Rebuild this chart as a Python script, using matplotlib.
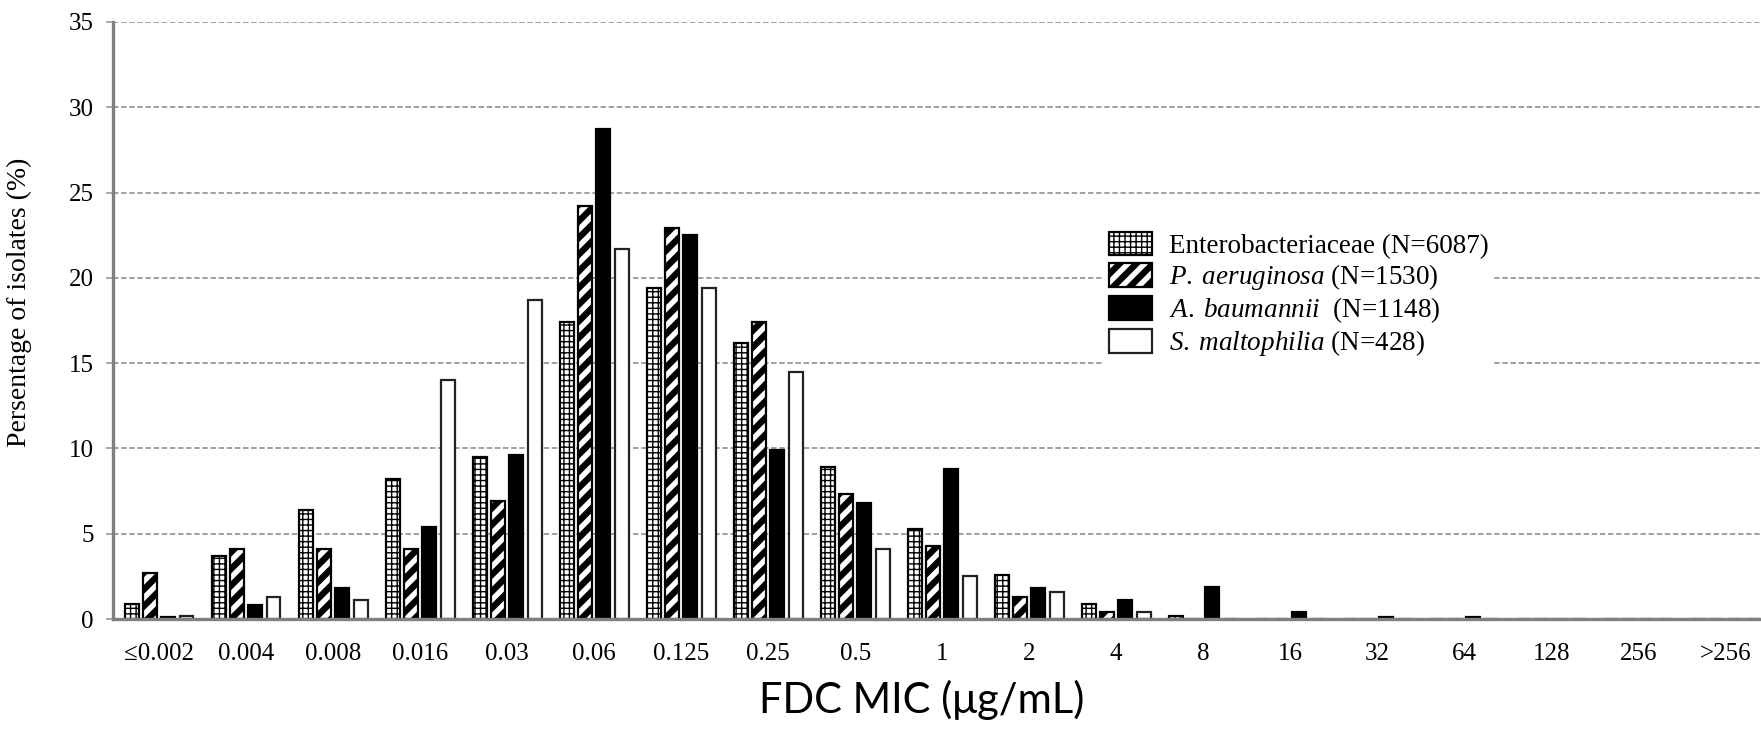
import numpy as np
import matplotlib

matplotlib.use("Agg")
import matplotlib.pyplot as plt
from matplotlib.patches import Patch

MIC_LABELS = ["≤0.002", "0.004", "0.008", "0.016", "0.03", "0.06", "0.125", "0.25",
              "0.5", "1", "2", "4", "8", "16", "32", "64", "128", "256", ">256"]

# percentage of isolates at each FDC MIC
ENTERO = [0.9, 3.7, 6.4, 8.2, 9.5, 17.4, 19.4, 16.2, 8.9, 5.3, 2.6, 0.9, 0.15,
          0, 0, 0, 0, 0, 0]
P_AERUG = [2.7, 4.1, 4.1, 4.1, 6.9, 24.2, 22.9, 17.4, 7.3, 4.3, 1.3, 0.4, 0,
           0, 0, 0, 0, 0, 0]
A_BAUM = [0.09, 0.8, 1.8, 5.4, 9.6, 28.7, 22.5, 9.9, 6.8, 8.8, 1.8, 1.1, 1.9,
          0.4, 0.09, 0.09, 0, 0, 0]
S_MALT = [0.2, 1.3, 1.1, 14.0, 18.7, 21.7, 19.4, 14.5, 4.1, 2.5, 1.6, 0.4, 0,
          0, 0, 0, 0, 0, 0]

SERIES_LABELS = [
    r"Enterobacteriaceae (N=6087)",
    r"$\mathit{P.\;aeruginosa}$ (N=1530)",
    r"$\mathit{A.\;baumannii}$  (N=1148)",
    r"$\mathit{S.\;maltophilia}$ (N=428)",
]

plt.rcParams.update({
    "font.family": ["Liberation Serif", "DejaVu Serif"],
    "mathtext.fontset": "custom",
    "mathtext.rm": "Liberation Serif",
    "mathtext.it": "Liberation Serif:italic",
})

# (values, face, hatch, hatch width, edge)
styles = [
    (ENTERO, "white", "+++", 1.0, "black"),
    (P_AERUG, "white", "//", 4.6, "black"),
    (A_BAUM, "black", None, 1.0, "black"),
    (S_MALT, "white", None, 1.0, "#222222"),
]

fig = plt.figure(figsize=(17.61, 7.32), dpi=100)
ax = fig.add_axes([113 / 1761, 1 - 619 / 732, 1 - 113 / 1761, 597 / 732])

x = np.arange(len(MIC_LABELS))
pitch = 0.21
width = 0.16
handles = []
for i, (vals, face, hatch, hlw, edge) in enumerate(styles):
    off = (i - 1.5) * pitch
    with plt.rc_context({"hatch.linewidth": hlw}):
        ax.bar(x + off, vals, width=width, color=face, edgecolor=edge,
               linewidth=1.6, hatch=hatch, zorder=2)
        handles.append(Patch(facecolor=face, edgecolor=edge, linewidth=1.6,
                             hatch=hatch, label=SERIES_LABELS[i]))

ax.set_xlim(-0.53, 18.41)
ax.set_ylim(0, 35)
ax.set_yticks(range(0, 36, 5))
ax.set_xticks(x)
ax.set_xticklabels(MIC_LABELS)
ax.yaxis.grid(True, color="#9a9a9a", linestyle=(0, (3, 1.5)), linewidth=1.3, zorder=0)
ax.set_axisbelow(True)

for side in ("top", "right"):
    ax.spines[side].set_visible(False)
for side in ("left", "bottom"):
    ax.spines[side].set_color("#808080")
    ax.spines[side].set_linewidth(2.4)
    ax.spines[side].set_zorder(3)

ax.tick_params(axis="y", length=5, width=1.2, color="#9a9a9a", labelsize=18, pad=9)
ax.tick_params(axis="x", length=0, labelsize=18, pad=17)

ax.set_ylabel("Persentage of isolates (%)", fontsize=20)
ax.yaxis.set_label_coords(-0.049, 0.53)

fig.text(922 / 1761, 1 - 700 / 732, "FDC MIC (μg/mL)", family="Lato",
         fontsize=30, ha="center", va="center")

leg = ax.legend(handles=handles, loc="upper left",
                bbox_to_anchor=(1090 / 1761, 1 - 213 / 732),
                bbox_transform=fig.transFigure, fontsize=19.5,
                frameon=True, facecolor="white", edgecolor="none", framealpha=1,
                fancybox=False, borderpad=0.2, handlelength=1.6, handleheight=0.95,
                handletextpad=0.6, labelspacing=0.12)

# legend swatches are rebuilt by the legend, so carry the stripe weight over
for swatch, style in zip(leg.legend_handles, styles):
    if hasattr(swatch, "set_hatch_linewidth"):
        swatch.set_hatch_linewidth(style[3])
    else:
        swatch._hatch_linewidth = style[3]

fig.savefig("out.png", dpi=100)
